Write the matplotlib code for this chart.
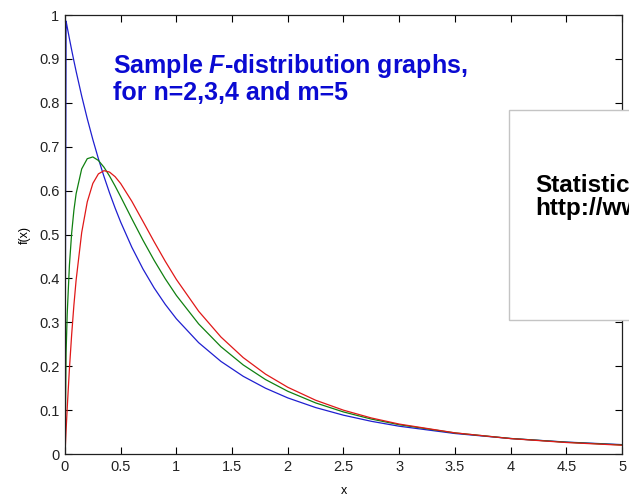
import matplotlib.pyplot as plt
from matplotlib.patches import Rectangle

# values (F pdf, m=5)
x = [0, 0.01, 0.02, 0.04, 0.06, 0.08, 0.1, 0.15, 0.2, 0.25, 0.3, 0.35, 0.4,
     0.45, 0.5, 0.6, 0.7, 0.8, 0.9, 1.0, 1.2, 1.4, 1.6, 1.8, 2.0, 2.25, 2.5,
     2.75, 3.0, 3.5, 4.0, 4.5, 5.0]
f_n2 = [0, 0.9861, 0.9725, 0.9460, 0.9203, 0.8956, 0.8717, 0.8155, 0.7639,
        0.7164, 0.6726, 0.6322, 0.5948, 0.5603, 0.5283, 0.4710, 0.4215,
        0.3784, 0.3409, 0.3080, 0.2536, 0.2109, 0.1770, 0.1499, 0.1278,
        0.1058, 0.0884, 0.0745, 0.0633, 0.0467, 0.0353, 0.0272, 0.0214]
f_n3 = [0, 0.2311, 0.3191, 0.4306, 0.5033, 0.5550, 0.5929, 0.6494, 0.6727,
        0.6767, 0.6687, 0.6533, 0.6332, 0.6104, 0.5860, 0.5359, 0.4871,
        0.4413, 0.3992, 0.3612, 0.2963, 0.2444, 0.2029, 0.1696, 0.1429,
        0.1164, 0.0958, 0.0796, 0.0667, 0.0480, 0.0354, 0.0268, 0.0207]
f_n4 = [0, 0.0540, 0.1043, 0.1944, 0.2721, 0.3389, 0.3961, 0.5044, 0.5743,
        0.6163, 0.6381, 0.6454, 0.6422, 0.6317, 0.6161, 0.5757, 0.5299,
        0.4836, 0.4391, 0.3976, 0.3252, 0.2665, 0.2196, 0.1820, 0.1520,
        0.1225, 0.0998, 0.0821, 0.0682, 0.0482, 0.0351, 0.0262, 0.0200]

xticks = [0, 0.5, 1, 1.5, 2, 2.5, 3, 3.5, 4, 4.5, 5]
xticklabels = ['0', '0.5', '1', '1.5', '2', '2.5', '3', '3.5', '4', '4.5', '5']
yticks = [0, 0.1, 0.2, 0.3, 0.4, 0.5, 0.6, 0.7, 0.8, 0.9, 1]
yticklabels = ['0', '0.1', '0.2', '0.3', '0.4', '0.5', '0.6', '0.7', '0.8', '0.9', '1']

plt.rcParams['font.family'] = ['Liberation Sans', 'DejaVu Sans']
plt.rcParams['mathtext.fontset'] = 'custom'
plt.rcParams['mathtext.it'] = 'Liberation Sans:italic:bold'
plt.rcParams['mathtext.rm'] = 'Liberation Sans:bold'

fig = plt.figure(figsize=(6.29, 4.97), dpi=100)
ax = fig.add_axes([0.1033, 0.0865, 0.8856, 0.8833])

ax.plot(x, f_n2, color='#1f1fd0', lw=0.9)
ax.plot(x, f_n3, color='#108010', lw=0.9)
ax.plot(x, f_n4, color='#e01818', lw=0.9)

ax.set_xlim(0, 5)
ax.set_ylim(0, 1)
ax.set_xticks(xticks)
ax.set_xticklabels(xticklabels)
ax.set_yticks(yticks)
ax.set_yticklabels(yticklabels)
ax.tick_params(direction='in', top=True, right=True, length=5, width=0.8,
               labelsize=10.5, labelcolor='#222222', pad=4)
for s in ax.spines.values():
    s.set_linewidth(0.9)
    s.set_color('#202020')
ax.set_xlabel('x', fontsize=9, labelpad=8)
ax.set_ylabel('f(x)', fontsize=9, labelpad=6)

fig.text(0.1797, 0.8531, 'Sample $F$-distribution graphs,', fontsize=18,
         fontweight='bold', color='#0a0ad2', va='baseline')
fig.text(0.1797, 0.7988, 'for n=2,3,4 and m=5', fontsize=18,
         fontweight='bold', color='#0a0ad2', va='baseline')

# notice box, partly outside the figure as in the reference
box = Rectangle((0.8092, 0.3561), 0.3, 0.4225, transform=fig.transFigure,
                facecolor='white', edgecolor='#c4c4c4', lw=1.0, zorder=10)
fig.add_artist(box)
fig.text(0.8506, 0.6142, 'Statistic', fontsize=17.5, fontweight='bold',
         color='black', va='baseline', zorder=11)
fig.text(0.8506, 0.5674, 'http://www', fontsize=17.5, fontweight='bold',
         color='black', va='baseline', zorder=11)

fig.savefig('out.png', dpi=100)
